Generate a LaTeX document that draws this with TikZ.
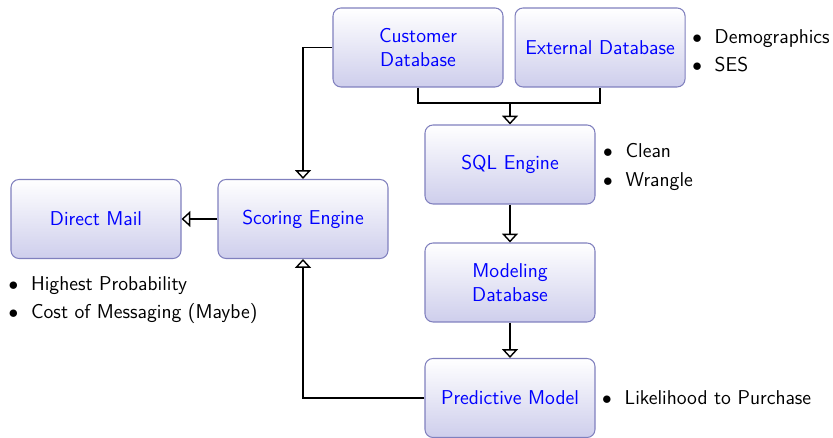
\documentclass[tikz,border=0pt]{standalone}
\usepackage{amsmath}
\usepackage{amssymb}
\usetikzlibrary{arrows.meta,positioning}

\definecolor{blockfill}{RGB}{206,206,236}
\definecolor{blockline}{RGB}{128,128,190}
\newcommand{\itm}[1]{\makebox[1.12em][l]{$\bullet$}#1}

\begin{document}
\begin{tikzpicture}[->,>={Triangle[open,width=9pt,length=5pt]},thick,
                    font=\sffamily\fontsize{11.4}{16}\selectfont,
                    block node/.style={rectangle,rounded corners=0.16cm,draw=blockline,line width=0.6pt,
                      top color=white,bottom color=blockfill,text=blue,align=center,
                      font=\sffamily\fontsize{11.4}{13.6}\selectfont,
                      minimum width=3.4cm,minimum height=1.58cm},
                    list node/.style={align=left,inner sep=0pt,text=black}]

  \useasboundingbox (0,0) rectangle (16.66,8.76);

  \node[block node] (cust) at (8.36,7.81) {Customer\\Database};
  \node[block node] (ext) [right=0.22cm of cust] {External Database};
  \node[block node] (sql) at (10.2,5.47) {SQL Engine};
  \node[block node] (model) at (10.2,3.11) {Modeling\\Database};
  \node[block node] (pred) at (10.2,0.8) {Predictive Model};
  \node[block node] (score) at (6.06,4.38) {Scoring Engine};
  \node[block node] (mail) at (1.92,4.38) {Direct Mail};

  \node[list node] (extlist) [right=0.12cm of ext,yshift=-0.07cm] {\itm{Demographics}\\\itm{SES}};
  \node[list node] (sqllist) [right=0.14cm of sql,yshift=-0.05cm] {\itm{Clean}\\\itm{Wrangle}};
  \node[list node] (predlist) [right=0.12cm of pred] {\itm{Likelihood to Purchase}};
  \node[list node,anchor=west] (maillist) at (0.16,2.76) {\itm{Highest Probability}\\\itm{Cost of Messaging (Maybe)}};

  \coordinate (merge) at (10.2,6.7);

  \draw[-] (cust.south) |- (merge) -| (ext.south);
  \draw (merge) -- (sql);
  \draw (cust.west) -| (score.north);
  \draw (sql) -- (model);
  \draw (model) -- (pred);
  \draw (pred.west) -| (score.south);
  \draw (score) -- (mail);
\end{tikzpicture}
\end{document}
